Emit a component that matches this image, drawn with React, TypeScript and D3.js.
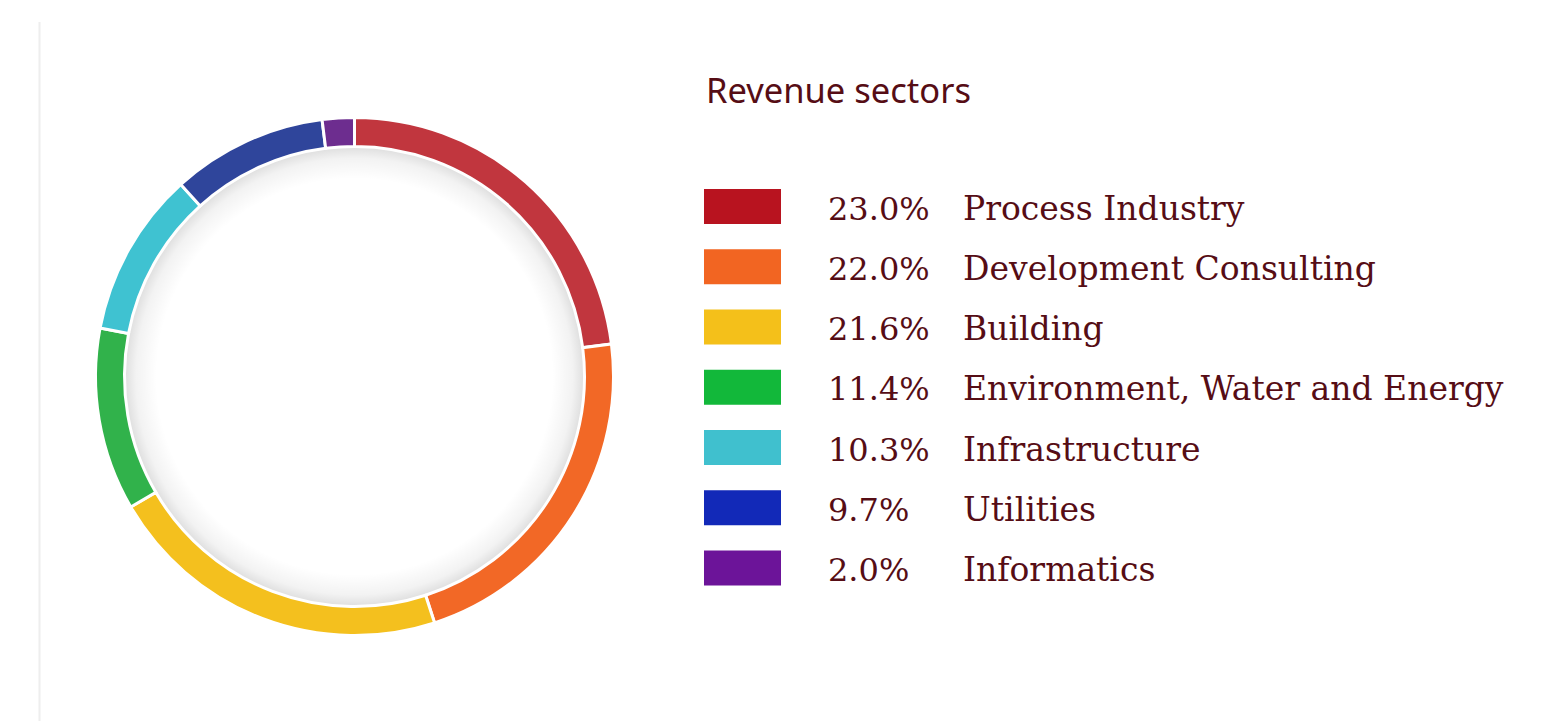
import React from "react";
import * as d3 from "d3";

const categories = [
  "Process Industry",
  "Development Consulting",
  "Building",
  "Environment, Water and Energy",
  "Infrastructure",
  "Utilities",
  "Informatics",
];
const values = [23.0, 22.0, 21.6, 11.4, 10.3, 9.7, 2.0];
const ringColors = ["#C1363E", "#F26826", "#F4C01E", "#31B24B", "#3FC2D1", "#2F459B", "#6D2D8F"];
const legendColors = ["#B8131F", "#F26522", "#F4C01A", "#12B83A", "#40C0CE", "#1229B8", "#6C1499"];
const title = "Revenue sectors";

export default function App() {
  const W = 1568, H = 721;
  const cx = 354.5, cy = 376.5, rOuter = 259, rInner = 230;
  const pie = d3.pie<number>().sort(null).value((d) => d)(values);
  const arc = d3.arc<d3.PieArcDatum<number>>().innerRadius(rInner).outerRadius(rOuter);
  const textColor = "#560D15";
  const rowY = d3.scaleLinear().domain([0, categories.length - 1]).range([206.5, 568]);
  return (
    <svg width={W} height={H} style={{ position: "absolute", left: 0, top: 0, background: "#fff" }}>
      <defs>
        <radialGradient id="innerShadow" cx={cx} cy={cy} r={rInner} gradientUnits="userSpaceOnUse">
          <stop offset="0.86" stopColor="#000" stopOpacity={0} />
          <stop offset="0.95" stopColor="#000" stopOpacity={0.05} />
          <stop offset="1" stopColor="#000" stopOpacity={0.13} />
        </radialGradient>
      </defs>
      <line x1={39.5} x2={39.5} y1={22} y2={H} stroke="#EEEEEE" strokeWidth={2} />
      <circle cx={cx} cy={cy} r={rInner} fill="url(#innerShadow)" />
      <g transform={`translate(${cx},${cy})`}>
        {pie.map((p, i) => (
          <path key={i} d={arc(p) || ""} fill={ringColors[i]} stroke="#fff" strokeWidth={3} strokeLinejoin="miter" />
        ))}
      </g>
      <text x={706} y={103} fill={textColor} style={{ fontFamily: "Noto Sans", fontSize: 34.5 }}>
        {title}
      </text>
      {categories.map((c, i) => (
        <g key={c} transform={`translate(0,${rowY(i)})`}>
          <rect x={704} y={-17.5} width={77} height={35} fill={legendColors[i]} />
          <text x={828} y={13} fill={textColor} style={{ fontFamily: "DejaVu Serif", fontSize: 32 }}>
            {values[i].toFixed(1) + "%"}
          </text>
          <text x={963} y={13} fill={textColor} style={{ fontFamily: "DejaVu Serif", fontSize: 33 }}>
            {c}
          </text>
        </g>
      ))}
    </svg>
  );
}
